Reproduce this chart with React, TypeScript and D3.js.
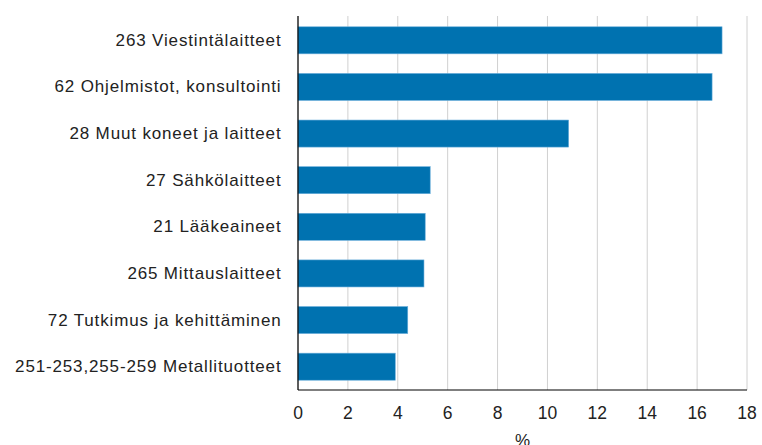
import React from "react";
import * as d3 from "d3";

const categories = [
  "263 Viestintälaitteet",
  "62 Ohjelmistot, konsultointi",
  "28 Muut koneet ja laitteet",
  "27 Sähkölaitteet",
  "21 Lääkeaineet",
  "265 Mittauslaitteet",
  "72 Tutkimus ja kehittäminen",
  "251-253,255-259 Metallituotteet",
];
const values = [17.0, 16.6, 10.85, 5.3, 5.1, 5.05, 4.4, 3.9];
const xTicks = [0, 2, 4, 6, 8, 10, 12, 14, 16, 18];
const xLabel = "%";

const W = 762;
const H = 445;
const left = 298;
const right = 747;
const top = 16;
const bottom = 390;

export default function App() {
  const x = d3.scaleLinear().domain([0, 18]).range([left, right]);
  const y = d3
    .scaleBand<string>()
    .domain(categories)
    .range([top + 1, bottom])
    .paddingInner(0.42)
    .paddingOuter(0.21);
  const font = "'Liberation Sans', Arial, sans-serif";
  return (
    <svg
      width={W}
      height={H}
      style={{ position: "absolute", left: 0, top: 0, background: "#fff" }}
      fontFamily={font}
    >
      {xTicks.map((t) => (
        <line
          key={"g" + t}
          x1={x(t)}
          x2={x(t)}
          y1={top}
          y2={bottom}
          stroke="#d0d0d0"
          strokeWidth={1}
        />
      ))}
      {categories.map((c, i) => (
        <rect
          key={c}
          x={x(0)}
          y={y(c)}
          width={x(values[i]) - x(0)}
          height={y.bandwidth()}
          fill="#0072b0"
          stroke="#6aaedb"
          strokeWidth={0.6}
        />
      ))}
      <line x1={left} x2={left} y1={top} y2={bottom} stroke="#000" strokeWidth={1.2} />
      <line x1={left} x2={right} y1={bottom} y2={bottom} stroke="#000" strokeWidth={1.2} />
      {categories.map((c) => (
        <text
          key={"l" + c}
          x={281.5}
          y={(y(c) ?? 0) + y.bandwidth() / 2}
          textAnchor="end"
          dominantBaseline="central"
          fontSize={17}
          letterSpacing={0.85}
          fill="#222"
        >
          {c}
        </text>
      ))}
      {xTicks.map((t) => (
        <text
          key={"t" + t}
          x={x(t)}
          y={413}
          textAnchor="middle"
          dominantBaseline="central"
          fontSize={17.5}
          fill="#222"
        >
          {t}
        </text>
      ))}
      <text x={(left + right) / 2} y={440} textAnchor="middle" dominantBaseline="central" fontSize={17} fill="#222">
        {xLabel}
      </text>
    </svg>
  );
}
